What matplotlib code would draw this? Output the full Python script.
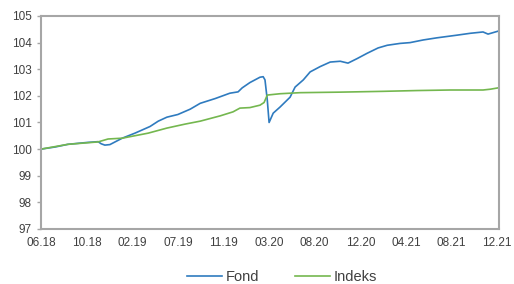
import matplotlib
matplotlib.use("Agg")
import matplotlib.pyplot as plt

# x positions are in tick-label units (0 = 06.18, 10 = 12.21)
tick_labels = ["06.18", "10.18", "02.19", "07.19", "11.19", "03.20",
               "08.20", "12.20", "04.21", "08.21", "12.21"]

fond_x = [0.00, 0.31, 0.59, 1.01, 1.25, 1.32, 1.40, 1.51, 1.78, 2.06,
          2.39, 2.57, 2.76, 3.00, 3.27, 3.49, 3.82, 4.14, 4.32, 4.41,
          4.58, 4.80, 4.87, 4.91, 4.96, 5.00, 5.09, 5.24, 5.46, 5.57,
          5.75, 5.90, 6.12, 6.34, 6.56, 6.73, 6.93, 7.15, 7.39, 7.59,
          7.87, 8.09, 8.38, 8.68, 9.12, 9.41, 9.69, 9.80, 10.02]
fond_y = [100.00, 100.08, 100.18, 100.25, 100.28, 100.20, 100.15, 100.17, 100.41, 100.60,
          100.85, 101.05, 101.20, 101.30, 101.50, 101.72, 101.90, 102.10, 102.15, 102.30,
          102.50, 102.70, 102.72, 102.60, 101.85, 101.00, 101.35, 101.58, 101.95, 102.33,
          102.60, 102.90, 103.10, 103.27, 103.30, 103.23, 103.40, 103.60, 103.80, 103.90,
          103.97, 104.00, 104.10, 104.18, 104.28, 104.35, 104.40, 104.32, 104.43]

indeks_x = [0.00, 0.59, 1.25, 1.47, 1.78, 2.35, 2.76, 3.16, 3.49, 3.93,
            4.21, 4.36, 4.58, 4.80, 4.89, 4.96, 5.24, 5.68, 6.56, 7.50,
            8.25, 8.97, 9.69, 9.85, 10.02]
indeks_y = [100.00, 100.18, 100.27, 100.38, 100.41, 100.60, 100.79, 100.94, 101.05, 101.25,
            101.40, 101.54, 101.56, 101.65, 101.75, 102.03, 102.08, 102.12, 102.14, 102.17,
            102.20, 102.22, 102.22, 102.25, 102.30]

plt.rcParams['font.family'] = ['Liberation Sans Narrow', 'Liberation Sans', 'DejaVu Sans']

fig = plt.figure(figsize=(5.14, 2.84), dpi=100)
ax = fig.add_axes([0.0798, 0.1937, 0.891, 0.75])

ax.plot(fond_x, fond_y, color='#2f7bbf', lw=1.2, label='Fond')
ax.plot(indeks_x, indeks_y, color='#74b74f', lw=1.2, label='Indeks')

ax.set_xlim(0, 10.04)
ax.set_ylim(97, 105)
ax.set_xticks(range(len(tick_labels)))
ax.set_xticklabels(tick_labels)
ax.set_yticks(range(97, 106))

for s in ax.spines.values():
    s.set_color('#a6a6a6')
    s.set_linewidth(1.5)
ax.tick_params(axis='both', colors='#a6a6a6', labelcolor='#404040',
               labelsize=8.5, length=3, width=1)
ax.tick_params(axis='x', length=0, pad=6)

fig.legend(loc='center', ncol=2, frameon=False, fontsize=10.5,
           handlelength=2.4, handletextpad=0.3, columnspacing=2.4,
           bbox_to_anchor=(282 / 514, 1 - 277 / 284), labelcolor='#404040')

fig.savefig('out.png', dpi=100)
